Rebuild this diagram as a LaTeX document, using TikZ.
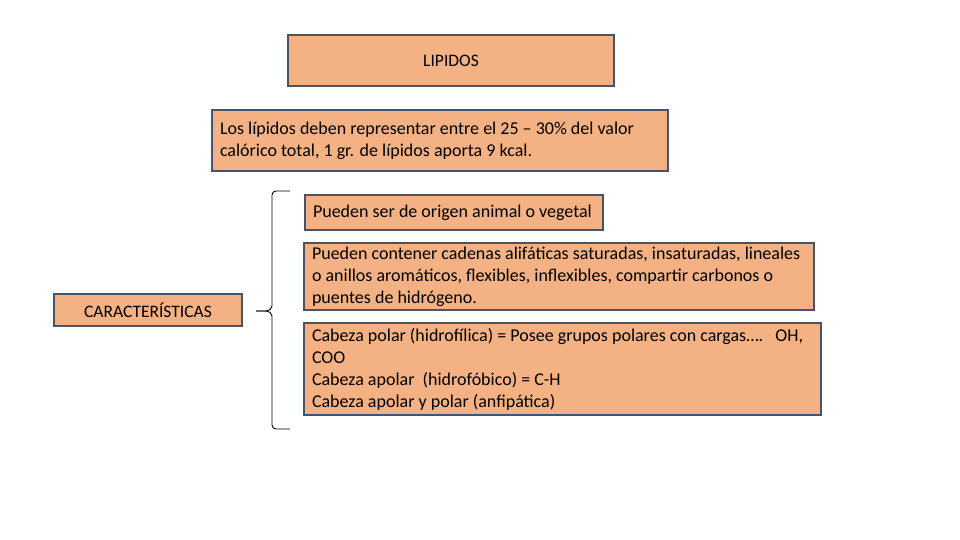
\documentclass[tikz,border=0pt]{standalone}
\usepackage{fontspec}
\setmainfont{Carlito}
\definecolor{boxfill}{RGB}{244,177,131}
\definecolor{boxline}{RGB}{68,84,106}
\begin{document}
\begin{tikzpicture}[x=1pt,y=-1pt,
  box/.style={draw=boxline,line width=1.6pt,fill=boxfill,inner sep=0pt,
    font=\fontsize{17.5}{22}\selectfont},
  tbox/.style={box,align=flush left,inner xsep=8pt,font=\fontsize{18}{22}\selectfont}]
\useasboundingbox (0,0) rectangle (960,540);
\node[box,minimum width=326pt,minimum height=51pt] (lip) at (451,60.5) {LIPIDOS};
\node[tbox,text width=440pt,minimum height=61pt] (def) at (440,140.5)
  {Los lípidos deben representar entre el 25 – 30\% del valor\\calórico total, 1 gr. de lípidos aporta 9 kcal.};
\node[box,minimum width=188pt,minimum height=32pt] (car) at (148,310) {CARACTERÍSTICAS};
\node[tbox,text width=282pt,minimum height=35pt] (c1) at (454,212.5)
  {Pueden ser de origen animal o vegetal};
\node[tbox,text width=494pt,minimum height=67pt] (c2) at (559,276.5)
  {Pueden contener cadenas alifáticas saturadas, insaturadas, lineales\\o anillos aromáticos, flexibles, inflexibles, compartir carbonos o\\puentes de hidrógeno.};
\node[tbox,text width=501pt,minimum height=92pt] (c3) at (562.5,369)
  {Cabeza polar (hidrofílica) = Posee grupos polares con cargas….\ \ \ OH,\\COO\\Cabeza apolar\ \ (hidrofóbico) = C-H\\Cabeza apolar y polar (anfipática)};
\coordinate (btop) at (290,191);
\coordinate (bbot) at (290,429);
\coordinate (btip) at (256,311);
\draw[line width=0.9pt,black] (btop) -- (276,191) to[out=180,in=90] (272,195) -- (272,306)
  to[out=-90,in=0] (266,311) -- (btip);
\draw[line width=0.9pt,black] (btip) -- (266,311) to[out=0,in=90] (272,316) -- (272,425)
  to[out=-90,in=180] (276,429) -- (bbot);
\end{tikzpicture}
\end{document}
